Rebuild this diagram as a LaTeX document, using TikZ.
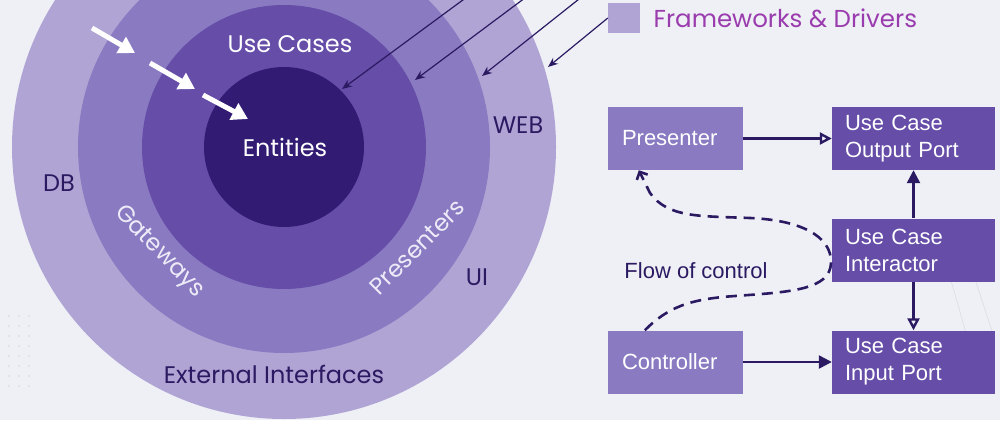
\documentclass[tikz,border=0pt]{standalone}
\usepackage{fontspec}
\setmainfont{Liberation Sans}
\newfontfamily\popfont{Poppins}
\usetikzlibrary{arrows.meta,positioning}

\definecolor{bgGray}{HTML}{EEF0F6}
\definecolor{dotGray}{HTML}{DCDFE7}
\definecolor{ringOuter}{HTML}{B0A4D4}
\definecolor{ringMid}{HTML}{8A7AC2}
\definecolor{ringIn}{HTML}{654DA8}
\definecolor{ringCore}{HTML}{321B73}
\definecolor{inkDark}{HTML}{2B1A62}
\definecolor{legendInk}{HTML}{9A3CAE}
\definecolor{paleInk}{HTML}{EEEBF8}

\tikzset{
  ringLabel/.style={font=\popfont\fontsize{24}{28}\selectfont, text=white},
  outerLabel/.style={font=\popfont\fontsize{24}{28}\selectfont, text=inkDark},
  slantLabel/.style={font=\popfont\fontsize{23.5}{28}\selectfont, text=paleInk},
  boxLight/.style={fill=ringMid, text=white, minimum height=63pt, inner xsep=14pt,
    text width=107pt, align=left, font=\fontsize{22}{27}\selectfont},
  boxDark/.style={fill=ringIn, text=white, minimum height=63pt, inner xsep=13pt,
    text width=137pt, align=left, font=\fontsize{22}{27}\selectfont},
  inward/.style={-{Triangle[length=16pt,width=18pt]}, white, line width=5pt},
  depend/.style={-{Stealth[length=10pt,width=8pt]}, inkDark, line width=1.2pt},
  openTip/.style={-{Triangle[length=12pt,width=12pt,fill=bgGray]}, inkDark, line width=2.4pt},
  fullTip/.style={-{Triangle[length=13pt,width=13pt]}, inkDark, line width=2.4pt},
  flow/.style={-{Straight Barb[length=6pt,width=12pt]}, inkDark, line width=2.6pt,
    dash pattern=on 11pt off 7pt}
}

\begin{document}
\begin{tikzpicture}[x=1pt,y=-1pt]
  \useasboundingbox (0,0) rectangle (1000,420);
  \clip (0,0) rectangle (1000,420);
  \fill[bgGray] (0,0) rectangle (1000,420);

  % faint background dots and lines
  \foreach \i in {0,...,7}
    \foreach \j in {0,1,2}
      \fill[dotGray] (9+10*\j, 316+10*\i) circle (1.1);
  \draw[dotGray, line width=0.7pt] (948,270) -- (968,340);
  \draw[dotGray, line width=0.7pt] (972,270) -- (995,340);

  % the rings
  \fill[ringOuter] (284,147) circle (272);
  \fill[ringMid] (284,147) circle (206);
  \fill[ringIn] (284,147) circle (142);
  \fill[ringCore] (284,147) circle (80);

  \node[ringLabel] (useCases) at (290,44) {Use Cases};
  \node[ringLabel] (entities) at (285,147) {Entities};
  \node[slantLabel, rotate=-46] (gateways) at (159,252) {Gateways};
  \node[slantLabel, rotate=45] (presenters) at (417,247) {Presenters};
  \node[outerLabel] (web) at (518,125) {WEB};
  \node[outerLabel] (db) at (59,183) {DB};
  \node[outerLabel] (ui) at (477,277) {UI};
  \node[outerLabel] (extIf) at (274,374) {External Interfaces};

  % white arrows towards the centre
  \draw[inward] (92,28) -- (135,53);
  \draw[inward] (150,63) -- (195,89);
  \draw[inward] (203,95) -- (248,119);

  % legend
  \node[fill=ringOuter, minimum width=32pt, minimum height=30pt, inner sep=0pt] (legendBox) at (624,18) {};
  \node[font=\popfont\fontsize{24.5}{28}\selectfont, text=legendInk, right=10pt of legendBox] (legendText) {Frameworks \& Drivers};

  % dependency arrows
  \draw[depend] (490,-20) -- (342,89);
  \draw[depend] (549,-20) -- (415,80);
  \draw[depend] (603,-20) -- (482,76);
  \draw[depend] (legendBox.west) -- (548,67);

  % boxes
  \node[boxLight] (pres) at (675.5,138.5) {Presenter};
  \node[boxDark] (outPort) at (913.5,138.5) {Use Case\\Output Port};
  \node[boxDark] (interactor) at (913.5,250) {Use Case\\Interactor};
  \node[boxDark] (inPort) at (913.5,362) {Use Case\\Input Port};
  \node[boxLight] (ctrl) at (675.5,362) {Controller};

  \draw[openTip] (pres) -- (outPort);
  \draw[fullTip] (interactor) -- (outPort);
  \draw[openTip] (interactor) -- (inPort);
  \draw[fullTip] (ctrl) -- (inPort);

  % flow of control
  \coordinate (flowStart) at ([xshift=37pt]ctrl.north west);
  \coordinate (flowEnd) at ([xshift=31pt]pres.south west);
  \draw[flow] (flowStart) .. controls (668,307) and (690,299) .. (735,296)
    .. controls (790,292) and (830,290) .. (831,263)
    .. controls (832,236) and (800,220) .. (750,218)
    .. controls (700,216) and (668,218) .. (650,193)
    -- (flowEnd);
  \node[text=inkDark, font=\fontsize{22}{26}\selectfont] (flowLabel) at (696,271) {Flow of control};
\end{tikzpicture}
\end{document}
